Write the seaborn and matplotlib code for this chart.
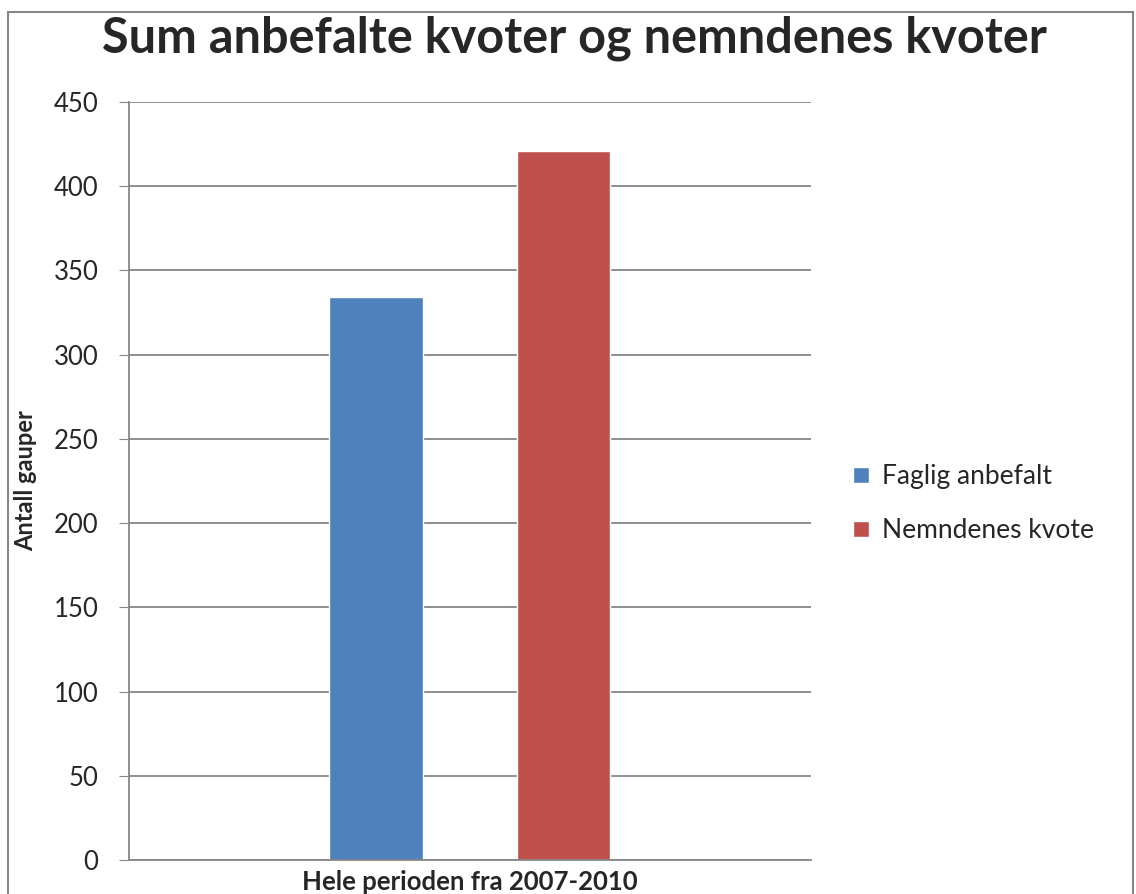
import seaborn as sns
import pandas as pd
import matplotlib.pyplot as plt
from matplotlib.patches import Rectangle

# data
periode = ['Hele perioden fra 2007-2010']
serier = ['Faglig anbefalt', 'Nemndenes kvote']
verdier = [334, 421]
farger = ['#4F81BD', '#C0504D']

df = pd.DataFrame({'periode': periode * len(serier), 'serie': serier, 'antall': verdier})

sns.set_style('white')
plt.rcParams['font.family'] = ['Lato', 'DejaVu Sans']

fig = plt.figure(figsize=(11.36, 8.94), dpi=100)
ax = fig.add_axes([0.1135, 0.038, 0.6, 0.848])

sns.barplot(data=df, x='periode', y='antall', hue='serie', palette=farger,
            width=0.55, gap=0.5, saturation=1, ax=ax)

ax.set_ylim(0, 450)
ax.set_yticks(range(0, 451, 50))
ax.set_xlim(-0.5, 0.5)
ax.yaxis.grid(True, color='#868686', linewidth=1.3)
ax.set_axisbelow(True)
for s in ['top', 'right']:
    ax.spines[s].set_visible(False)
ax.spines['left'].set_color('#868686')
ax.spines['bottom'].set_color('#868686')
ax.spines['left'].set_linewidth(1.3)
ax.spines['bottom'].set_linewidth(1.3)
ax.tick_params(axis='y', left=True, length=7, color='#868686', labelsize=18.5, pad=15)
ax.tick_params(axis='x', bottom=False, labelsize=18.5, pad=4)
for lab in ax.get_xticklabels():
    lab.set_fontweight('bold')
ax.set_xlabel('')
ax.set_ylabel('Antall gauper', fontsize=17, fontweight='bold', labelpad=12)

leg = ax.legend(loc='center left', bbox_to_anchor=(1.028, 0.47), frameon=False,
                fontsize=19, handlelength=0.6, handleheight=0.6, labelspacing=1.1,
                handletextpad=0.5)

fig.suptitle('Sum anbefalte kvoter og nemndenes kvoter', fontsize=35,
             fontweight='bold', x=0.506, y=0.983)

fig.patches.append(Rectangle((0.007, -0.05), 0.99, 1.037, transform=fig.transFigure,
                             fill=False, edgecolor='#868686', linewidth=1.5))

fig.savefig('out.png', dpi=100)
